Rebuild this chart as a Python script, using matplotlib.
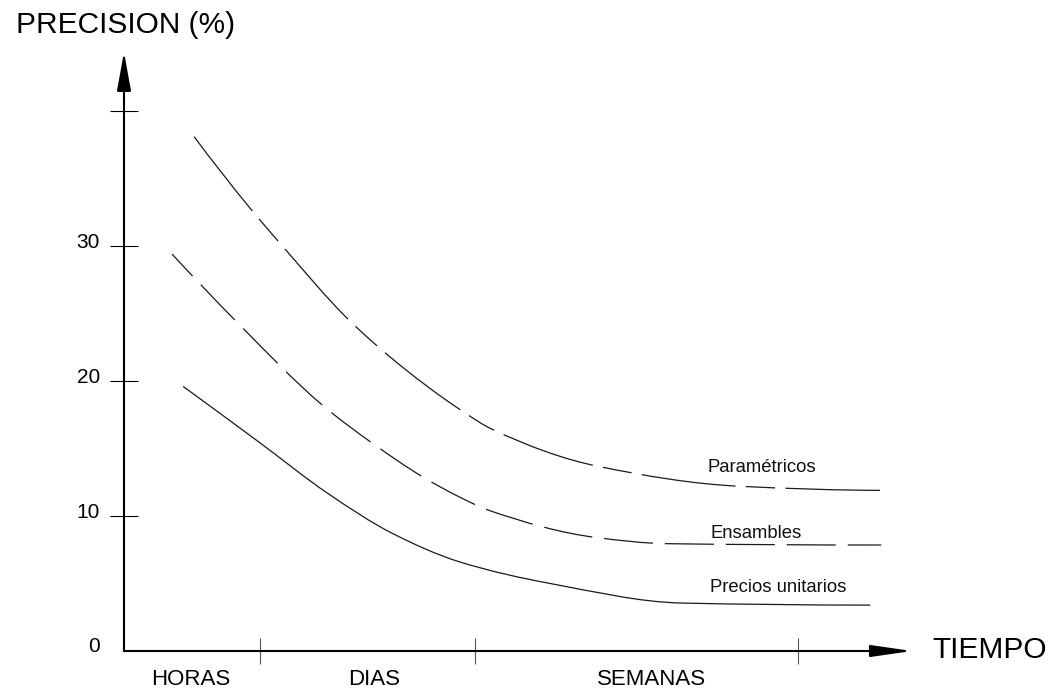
import numpy as np
import matplotlib
matplotlib.use("Agg")
import matplotlib.pyplot as plt
from matplotlib.path import Path
from matplotlib.patches import PathPatch
from matplotlib.transforms import ScaledTranslation

plt.rcParams['font.family'] = ['Liberation Sans', 'DejaVu Sans']
plt.rcParams['lines.scale_dashes'] = False

# ---------------- data ----------------
param_t = [0.89, 1.60, 2.01, 2.84, 3.54, 4.26, 4.68, 6.00, 7.82, 9.63]
param_y = [38.1, 32.8, 30.0, 24.6, 21.0, 17.9, 16.4, 13.7, 12.2, 11.9]

ens_t = [0.61, 1.41, 2.52, 3.15, 3.79, 4.26, 4.64, 6.00, 6.89, 9.61]
ens_y = [29.4, 24.5, 18.2, 15.4, 12.9, 11.4, 10.4, 8.4, 7.95, 7.85]

prec_t = [0.75, 1.73, 2.58, 3.41, 4.26, 5.41, 7.09, 9.47]
prec_y = [19.6, 15.4, 11.7, 8.7, 6.6, 5.0, 3.55, 3.4]

series_names = ['Paramétricos', 'Ensambles', 'Precios unitarios']

y_ticks = [0, 10, 20, 30, 40]
y_tick_labels = ['0', '10', '20', '30', '']

x_boundaries = [1.73, 4.45, 8.55]
x_categories = ['HORAS', 'DIAS', 'SEMANAS']
x_category_centers = [0.85, 3.17, 6.70]

# ---------------- layout ----------------
W, H = 1052, 693
fig = plt.figure(figsize=(W / 100, H / 100), dpi=100)
ax = fig.add_axes([124 / W, 42 / H, 788 / W, 599 / H])
ax.set_xlim(0, 10)
ax.set_ylim(0, 599 / 13.5)
for s in ax.spines.values():
    s.set_visible(False)
ax.patch.set_alpha(0)


def smooth_path(x, y):
    """Piecewise cubic Bezier through the read points (C1, no overshoot)."""
    x = np.asarray(x, float)
    y = np.asarray(y, float)
    n = len(x)
    h = np.diff(x)
    d = np.diff(y) / h
    m = np.zeros(n)
    for i in range(1, n - 1):
        if d[i - 1] * d[i] <= 0:
            m[i] = 0.0
        else:
            w1 = 2 * h[i] + h[i - 1]
            w2 = h[i] + 2 * h[i - 1]
            m[i] = (w1 + w2) / (w1 / d[i - 1] + w2 / d[i])
    m[0] = ((2 * h[0] + h[1]) * d[0] - h[0] * d[1]) / (h[0] + h[1])
    m[-1] = ((2 * h[-1] + h[-2]) * d[-1] - h[-1] * d[-2]) / (h[-1] + h[-2])
    if m[0] * d[0] <= 0:
        m[0] = 0
    if m[-1] * d[-1] <= 0:
        m[-1] = 0
    verts = [(x[0], y[0])]
    codes = [Path.MOVETO]
    for i in range(n - 1):
        verts += [(x[i] + h[i] / 3, y[i] + m[i] * h[i] / 3),
                  (x[i + 1] - h[i] / 3, y[i + 1] - m[i + 1] * h[i] / 3),
                  (x[i + 1], y[i + 1])]
        codes += [Path.CURVE4] * 3
    return Path(verts, codes)


line_color = '#1a1a1a'
styles = [
    (0, (68, 7.5, 21, 7.5)),
    (13.7, (35.3, 8.6)),
    '-',
]
for (tx, ty), ls in zip([(param_t, param_y), (ens_t, ens_y), (prec_t, prec_y)], styles):
    ax.add_patch(PathPatch(smooth_path(tx, ty), fill=False, lw=0.9,
                           ec=line_color, linestyle=ls, capstyle='butt'))

label_pos = [(7.41, 13.56), (7.44, 8.74), (7.44, 4.67)]
for name, (lx, ly) in zip(series_names, label_pos):
    ax.text(lx, ly, name, fontsize=13.3, ha='left', va='center', color='#111')

# axes arrows
ax.annotate('', xy=(0, 1), xytext=(0, 0), xycoords='axes fraction',
            arrowprops=dict(arrowstyle='-|>,head_length=23.8,head_width=4.3',
                            mutation_scale=1, lw=1.5, color='k',
                            shrinkA=0, shrinkB=0, capstyle='projecting'),
            annotation_clip=False)
ax.annotate('', xy=(1, 0), xytext=(0, 0), xycoords='axes fraction',
            arrowprops=dict(arrowstyle='-|>,head_length=25,head_width=3.6',
                            mutation_scale=1, lw=1.5, color='k',
                            shrinkA=0, shrinkB=0, capstyle='projecting'),
            annotation_clip=False)

# y ticks
ax.set_yticks(y_ticks, labels=y_tick_labels)
ax.tick_params(axis='y', direction='inout', length=20, width=0.8, color='k',
               labelsize=15, pad=7.2)
ax.yaxis.get_major_ticks()[0].tick1line.set_visible(False)
shift = ScaledTranslation(0, 0.06, fig.dpi_scale_trans)
for lbl in ax.get_yticklabels():
    lbl.set_transform(lbl.get_transform() + shift)

# x ticks
ax.set_xticks(x_boundaries)
ax.set_xticks(x_category_centers, labels=x_categories, minor=True)
ax.tick_params(axis='x', which='major', direction='inout', length=19.4,
               width=0.8, color='#555', labelbottom=False)
ax.tick_params(axis='x', which='minor', length=0, labelsize=16, pad=13)

# axis titles
fig.text(16 / W, 1 - 25 / H, 'PRECISION (%)', fontsize=21.5, ha='left', va='center')
fig.text(932 / W, 1 - 650 / H, 'TIEMPO', fontsize=21.5, ha='left', va='center')

fig.savefig('out.png', dpi=100, facecolor='white')
